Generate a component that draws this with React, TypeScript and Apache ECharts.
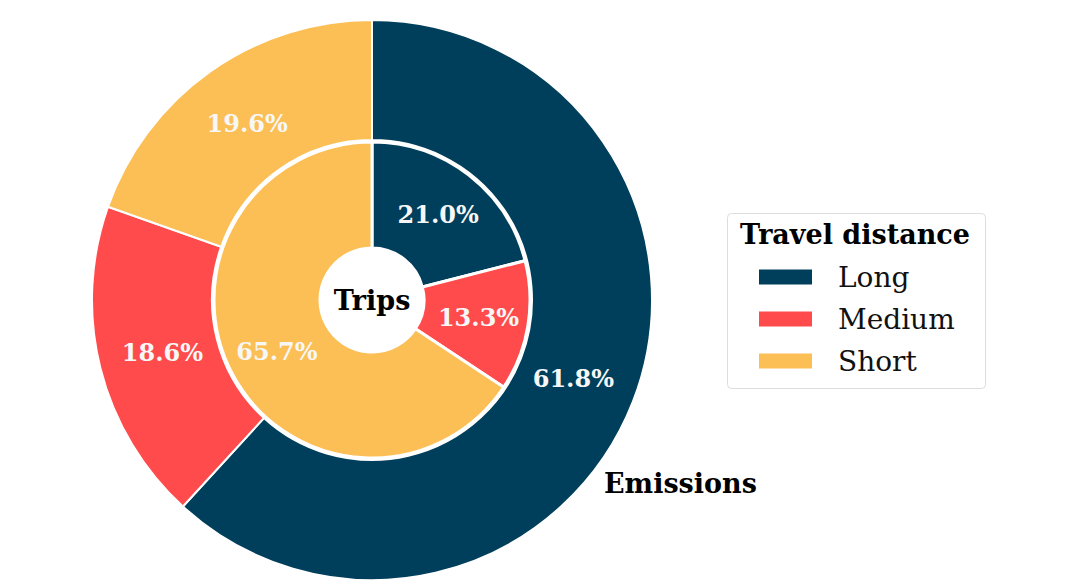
import React, { useEffect, useRef } from "react";
import * as echarts from "echarts";

const categories = ["Long", "Medium", "Short"];
const emissionsShare = [61.8, 18.6, 19.6];
const tripsShare = [21.0, 13.3, 65.7];
const colors = ["#003f5c", "#ff4b4b", "#fcbf55"];
const legendTitle = "Travel distance";
const innerTitle = "Trips";
const outerTitle = "Emissions";

const FONT = "'DejaVu Serif', serif";

export default function App() {
  const ref = useRef<HTMLDivElement>(null);
  useEffect(() => {
    if (!ref.current) return;
    const chart = echarts.init(ref.current, undefined, { renderer: "svg" });
    const mk = (vals: number[]) =>
      categories.map((c, i) => ({ name: c, value: vals[i], itemStyle: { color: colors[i] } }));
    const mkClear = (vals: number[]) =>
      categories.map((c, i) => ({ name: c, value: vals[i], itemStyle: { color: "rgba(0,0,0,0)" } }));
    const labelCfg = {
      show: true,
      position: "inside",
      formatter: (p: any) => p.value.toFixed(1) + "%",
      color: "#f7f7f7",
      fontFamily: FONT,
      fontWeight: "bold",
      fontSize: 24,
    };
    chart.setOption({
      animation: false,
      backgroundColor: "#ffffff",
      legend: {
        orient: "vertical",
        left: 757,
        top: 263,
        itemWidth: 55,
        itemHeight: 17,
        itemGap: 14,
        icon: "rect",
        data: categories,
        padding: 0,
        textStyle: { fontFamily: FONT, fontSize: 28, color: "#111", padding: [0, 0, 0, 20] },
        selectedMode: false,
      },
      graphic: [
        {
          type: "rect",
          left: 727,
          top: 213,
          shape: { width: 258, height: 175, r: 4 },
          style: { fill: "#ffffff", stroke: "#dddddd", lineWidth: 1 },
          z: -1,
        },
        {
          type: "text",
          left: 740,
          top: 221,
          style: { text: legendTitle, font: `bold 27px ${FONT}`, fill: "#000" },
        },
        {
          type: "text",
          x: 372,
          y: 300,
          style: { text: innerTitle, font: `bold 27px ${FONT}`, fill: "#000", align: "center", verticalAlign: "middle" },
          z: 10,
        },
        {
          type: "text",
          x: 604,
          y: 483,
          style: { text: outerTitle, font: `bold 27px ${FONT}`, fill: "#000", align: "left", verticalAlign: "middle" },
        },
      ],
      series: [
        {
          name: "Emissions",
          type: "pie",
          center: [372, 300],
          radius: [160, 280],
          startAngle: 90,
          clockwise: true,
          silent: true,
          label: { show: false },
          labelLine: { show: false },
          itemStyle: { borderColor: "#ffffff", borderWidth: 2 },
          data: mk(emissionsShare),
        },
        {
          name: "EmissionsLabels",
          type: "pie",
          center: [372, 300],
          radius: [146, 280],
          startAngle: 90,
          clockwise: true,
          silent: true,
          legendHoverLink: false,
          label: labelCfg,
          labelLine: { show: false },
          itemStyle: { borderWidth: 0 },
          data: mkClear(emissionsShare),
          z: 5,
        },
        {
          name: "Trips",
          type: "pie",
          center: [372, 300],
          radius: [52, 158],
          startAngle: 90,
          clockwise: true,
          silent: true,
          label: labelCfg,
          labelLine: { show: false },
          itemStyle: { borderColor: "#ffffff", borderWidth: 3 },
          data: mk(tripsShare),
        },
      ],
    });
    return () => chart.dispose();
  }, []);
  return (
    <div
      ref={ref}
      style={{ position: "fixed", left: 0, top: 0, width: 1068, height: 580 }}
    />
  );
}
